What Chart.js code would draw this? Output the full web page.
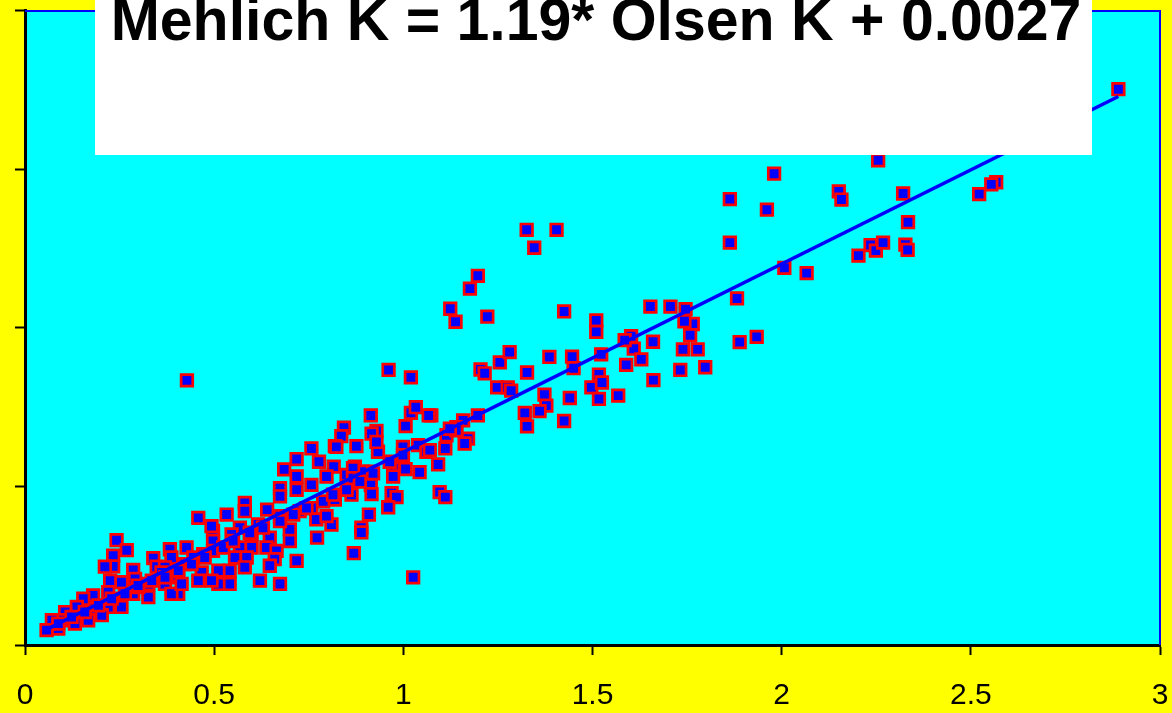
<!DOCTYPE html>
<html>
<head>
<meta charset="utf-8">
<script src="https://cdn.jsdelivr.net/npm/chart.js@4/dist/chart.umd.min.js"></script>
<style>
html,body{margin:0;padding:0;background:#FFFF00;}
#wrap{width:1172px;height:713px;position:relative;}
</style>
</head>
<body>
<div id="wrap"><canvas id="c" width="1172" height="713"></canvas></div>
<script>
// Olsen K (x) and Mehlich K (y)
const olsenK = [
2.890,2.567,2.554,2.522,1.980,1.863,1.961,2.151,2.158,2.255,2.321,2.334,1.863,2.007,2.066,1.882,1.889,1.934,1.798,2.203,2.235,2.249,2.268,2.327,2.333,
1.326,1.405,1.346,1.197,1.176,1.124,1.138,1.222,1.425,1.510,1.510,1.653,1.706,1.746,1.765,1.743,1.758,1.739,1.778,1.732,1.661,1.660,1.602,1.609,1.629,1.589,1.585,1.523,1.446,1.450,1.386,1.327,1.204,1.215,1.255,1.281,1.517,1.497,1.525,1.517,1.568,1.440,1.425,1.373,1.378,1.360,1.321,1.327,1.248,1.276,1.285,1.197,1.158,1.140,1.114,1.171,1.074,
0.961,1.020,0.914,0.929,0.843,0.836,1.020,1.033,1.067,1.006,1.162,1.111,0.876,0.819,0.933,0.999,1.039,1.061,1.092,1.006,1.043,0.973,0.973,0.911,0.872,0.816,0.914,0.916,0.863,0.819,0.969,0.982,0.960,1.096,1.111,0.909,0.889,0.889,0.810,0.869,1.026,
1.140,1.123,1.070,0.999,0.964,0.850,0.894,0.916,0.929,0.823,0.867,0.867,
0.757,0.718,0.777,0.685,0.718,0.757,0.797,0.788,0.757,0.718,0.674,0.674,0.581,0.581,0.640,0.674,0.770,0.772,0.700,0.700,0.647,0.638,0.616,0.599,0.599,0.568,0.546,0.533,0.458,0.497,0.497,0.568,0.555,0.586,0.581,0.665,0.660,0.647,0.718,0.621,0.674,0.541,0.541,0.511,0.511,0.467,0.458,0.427,0.493,0.726,0.797,
0.423,0.445,0.471,0.497,0.524,0.550,0.594,0.629,0.674,0.709,0.744,0.814,0.850,0.885,0.920,
0.242,0.269,0.233,0.233,0.211,0.286,0.339,0.348,0.383,0.387,0.370,0.379,0.405,0.225,0.255,0.291,0.286,0.255,0.220,0.220,0.180,0.180,0.154,0.137,0.203,0.167,0.106,0.097,0.132,0.071,0.057,0.088,0.326,0.370,0.405,0.326,0.361,0.299,
0.088,0.123,0.158,0.194,0.229,0.264,0.299,0.335,0.370,0.405,0.440,0.475,0.387,0.414,0.493,
0.428
];
const mehlichK = [
3.506,2.919,2.906,2.844,2.973,2.813,2.746,2.861,2.810,3.058,2.848,2.667,2.538,2.379,2.346,2.186,1.911,1.944,1.752,2.456,2.523,2.488,2.538,2.525,2.492,
2.619,2.619,2.506,2.329,2.248,2.121,2.039,2.071,2.104,2.048,1.975,2.135,2.135,2.119,2.025,2.042,1.954,1.865,1.865,1.735,1.671,1.913,1.948,1.869,1.802,1.767,1.923,1.833,1.819,1.746,1.817,1.719,1.738,1.714,1.783,1.848,1.706,1.625,1.656,1.552,1.573,1.558,1.413,1.579,1.510,1.475,1.464,1.379,1.625,1.625,1.604,1.448,1.417,1.375,1.323,1.302,1.448,
1.735,1.688,1.448,1.350,1.371,1.317,1.464,1.500,1.448,1.381,1.271,1.240,1.254,1.254,1.219,1.250,1.261,1.219,1.139,1.110,1.090,1.115,1.063,1.094,1.125,1.125,1.010,0.952,0.948,0.917,0.958,0.933,0.869,0.965,0.933,0.823,0.740,0.710,0.760,0.579,0.427,
1.354,1.364,1.229,1.198,1.156,1.073,1.094,1.333,1.281,1.250,1.115,1.052,
1.240,1.173,1.156,1.108,1.063,1.010,1.063,0.906,0.864,0.979,0.989,0.938,0.896,0.844,0.854,0.813,0.792,0.677,0.729,0.656,0.677,0.615,0.760,0.698,0.615,0.740,0.698,0.823,0.802,0.719,0.656,0.615,0.552,0.552,0.490,0.594,0.542,0.500,0.531,0.406,0.385,0.469,0.385,0.469,0.385,0.458,0.406,0.615,0.750,0.844,0.813,
0.510,0.552,0.573,0.594,0.615,0.656,0.708,0.740,0.781,0.823,0.864,0.948,0.979,1.031,1.083,
0.661,0.598,0.563,0.496,0.494,0.473,0.548,0.494,0.604,0.552,0.490,0.427,0.438,0.406,0.396,0.417,0.323,0.240,0.333,0.240,0.313,0.229,0.292,0.240,0.188,0.156,0.208,0.156,0.135,0.156,0.094,0.104,0.302,0.385,0.323,0.385,0.458,0.365,
0.135,0.177,0.208,0.250,0.292,0.323,0.375,0.406,0.427,0.469,0.510,0.552,0.323,0.385,0.406,
1.669
];
// trend line end points
const trendX = [0.055, 2.89];
const trendY = [0.095, 3.46];
const xTicks = [0, 0.5, 1, 1.5, 2, 2.5, 3];
const xTickLabels = ['0', '0.5', '1', '1.5', '2', '2.5', '3'];
const titleText = 'Mehlich K = 1.19* Olsen K + 0.0027';

const pts = olsenK.map((x, i) => ({x: x, y: mehlichK[i]}));
const trend = trendX.map((x, i) => ({x: x, y: trendY[i]}));

const bgPlugin = {
  id: 'bg',
  beforeDraw(chart) {
    const {ctx, chartArea: a} = chart;
    ctx.save();
    ctx.fillStyle = '#FFFF00';
    ctx.fillRect(0, 0, chart.width, chart.height);
    ctx.fillStyle = '#00FFFF';
    ctx.fillRect(a.left, a.top, a.right - a.left, a.bottom - a.top);
    ctx.restore();
  },
  afterDatasetsDraw(chart) {
    const {ctx, chartArea: a} = chart;
    ctx.save();
    ctx.strokeStyle = '#0000FF';
    ctx.lineWidth = 2;
    ctx.beginPath();
    ctx.moveTo(a.left, a.top);
    ctx.lineTo(a.right, a.top);
    ctx.lineTo(a.right, a.bottom);
    ctx.stroke();
    // title box
    ctx.fillStyle = '#FFFFFF';
    ctx.fillRect(95, 0, 997, 155);
    ctx.fillStyle = '#000000';
    ctx.font = 'bold 59px "Liberation Sans", Arial, sans-serif';
    ctx.textAlign = 'center';
    ctx.textBaseline = 'alphabetic';
    ctx.fillText(titleText, 596, 40);
    ctx.restore();
  }
};

new Chart(document.getElementById('c'), {
  type: 'scatter',
  data: {
    datasets: [
      {
        label: 'trend',
        data: trend,
        showLine: true,
        borderColor: '#0000FF',
        borderWidth: 3.5,
        pointRadius: 0,
        fill: false,
        order: 0
      },
      {
        label: 'K',
        data: pts,
        pointStyle: 'rect',
        pointRadius: 8.2,
        pointBackgroundColor: '#0000FF',
        pointBorderColor: '#FF0000',
        pointBorderWidth: 2.7,
        order: 1
      }
    ]
  },
  options: {
    responsive: false,
    animation: false,
    devicePixelRatio: 1,
    layout: {padding: {top: 5, right: 12, left: 0, bottom: 0}},
    plugins: {legend: {display: false}, tooltip: {enabled: false}, title: {display: false}},
    scales: {
      x: {
        type: 'linear',
        min: 0, max: 3,
        afterBuildTicks: s => { s.ticks = xTicks.map(v => ({value: v})); },
        afterFit: s => { s.height = 68; s.paddingLeft = 0; s.paddingRight = 0; },
        border: {display: true, color: '#000000', width: 3},
        grid: {display: true, drawOnChartArea: false, drawTicks: true, tickLength: 10, tickColor: '#000000', tickWidth: 2},
        ticks: {
          color: '#000000',
          font: {family: '"Liberation Sans", Arial, sans-serif', size: 30},
          padding: 23, maxRotation: 0, autoSkip: false,
          callback: (v) => { const i = xTicks.indexOf(v); return i >= 0 ? xTickLabels[i] : ''; }
        }
      },
      y: {
        type: 'linear',
        min: 0, max: 4,
        ticks: {display: false, stepSize: 1},
        afterFit: s => { s.width = 25; s.paddingTop = 0; s.paddingBottom = 0; },
        border: {display: true, color: '#000000', width: 3},
        grid: {display: true, drawOnChartArea: false, drawTicks: true, tickLength: 10, tickColor: '#000000', tickWidth: 2}
      }
    }
  },
  plugins: [bgPlugin]
});
</script>
</body>
</html>
